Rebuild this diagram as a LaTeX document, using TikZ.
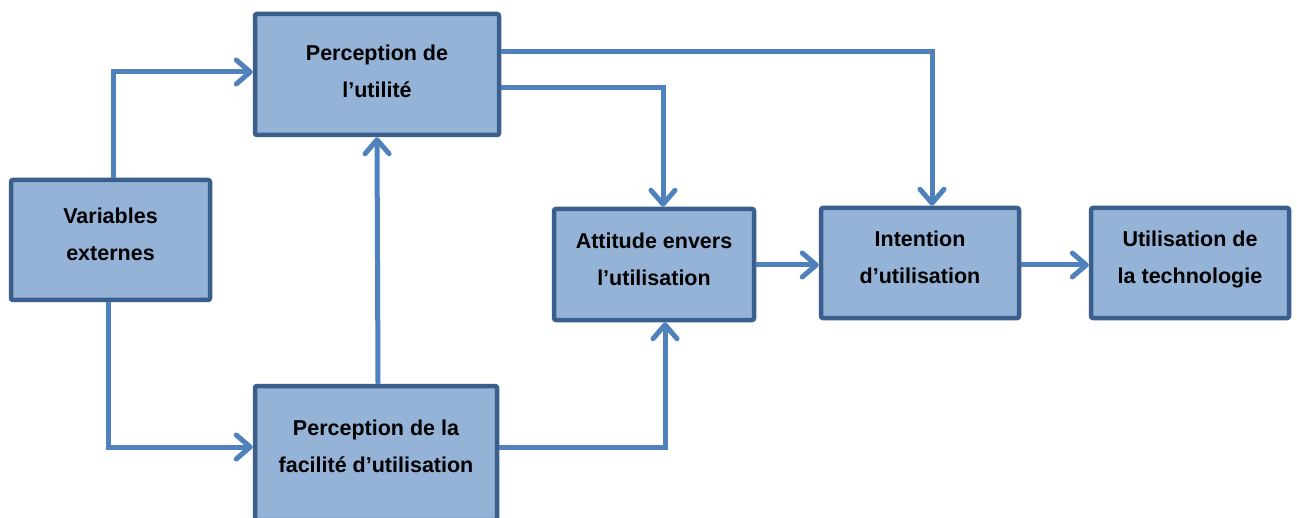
\documentclass[tikz,border=0pt]{standalone}
\usepackage{fontspec}
\setmainfont{Liberation Sans}
\usetikzlibrary{arrows.meta,calc}
\definecolor{boxfill}{HTML}{95B3D7}
\definecolor{boxline}{HTML}{3A5F8D}
\definecolor{arrowblue}{HTML}{4F81BD}
\begin{document}
\begin{tikzpicture}[x=1pt,y=-1pt,
  tambox/.style={draw=boxline, fill=boxfill, line width=4.5pt, rounded corners=2pt,
    inner sep=0pt},
  tamtext/.style={align=center, inner sep=0pt,
    font=\fontsize{21.5}{37}\selectfont\bfseries},
  arr/.style={draw=arrowblue, line width=5pt,
    -{Straight Barb[length=14pt,width=24pt,line cap=round,line join=round]}}]
\clip (0,0) rectangle (1297,518);
\fill[white] (0,0) rectangle (1297,518);

% boxes of the acceptance model
\node[tambox, minimum width=244pt, minimum height=121pt] (util) at (377,74.5) {};
\node[tambox, minimum width=199pt, minimum height=120pt] (var) at (110.5,240) {};
\node[tambox, minimum width=242pt, minimum height=134pt] (fac) at (376,453) {};
\node[tambox, minimum width=200pt, minimum height=111pt] (att) at (654,264.5) {};
\node[tambox, minimum width=198pt, minimum height=110pt] (int) at (920,263) {};
\node[tambox, minimum width=198pt, minimum height=110pt] (use) at (1190,263) {};

% box captions
\node[tamtext] (utilt) at (377,71) {Perception de\\l’utilité};
\node[tamtext] (vart) at (110.5,234.5) {Variables\\externes};
\node[tamtext] (fact) at (376,446.5) {Perception de la\\facilité d’utilisation};
\node[tamtext] (attt) at (654,259.5) {Attitude envers\\l’utilisation};
\node[tamtext] (intt) at (920,257) {Intention\\d’utilisation};
\node[tamtext] (uset) at (1190,259) {Utilisation de\\la technologie};

% connectors
\draw[arr] ([xshift=3pt]var.north) |- ([yshift=2.5pt]util.west);
\draw[arr] ([xshift=-2.5pt]var.south) |- ([yshift=6pt]fac.west);
\draw[arr] ([xshift=2pt]fac.north) -- (util.south);
\draw[arr] ([yshift=-13.5pt]util.east) -| ([xshift=9pt]att.north);
\draw[arr] ([yshift=22.5pt]util.east) -| ([xshift=12pt]int.north);
\draw[arr] ([yshift=6pt]fac.east) -| ([xshift=11pt]att.south);
\draw[arr] ([yshift=-0.5pt]att.east) -- ([yshift=-0.5pt]att.east -| int.west);
\draw[arr] ([yshift=-2pt]int.east) -- ([yshift=-2pt]int.east -| use.west);
\end{tikzpicture}
\end{document}
